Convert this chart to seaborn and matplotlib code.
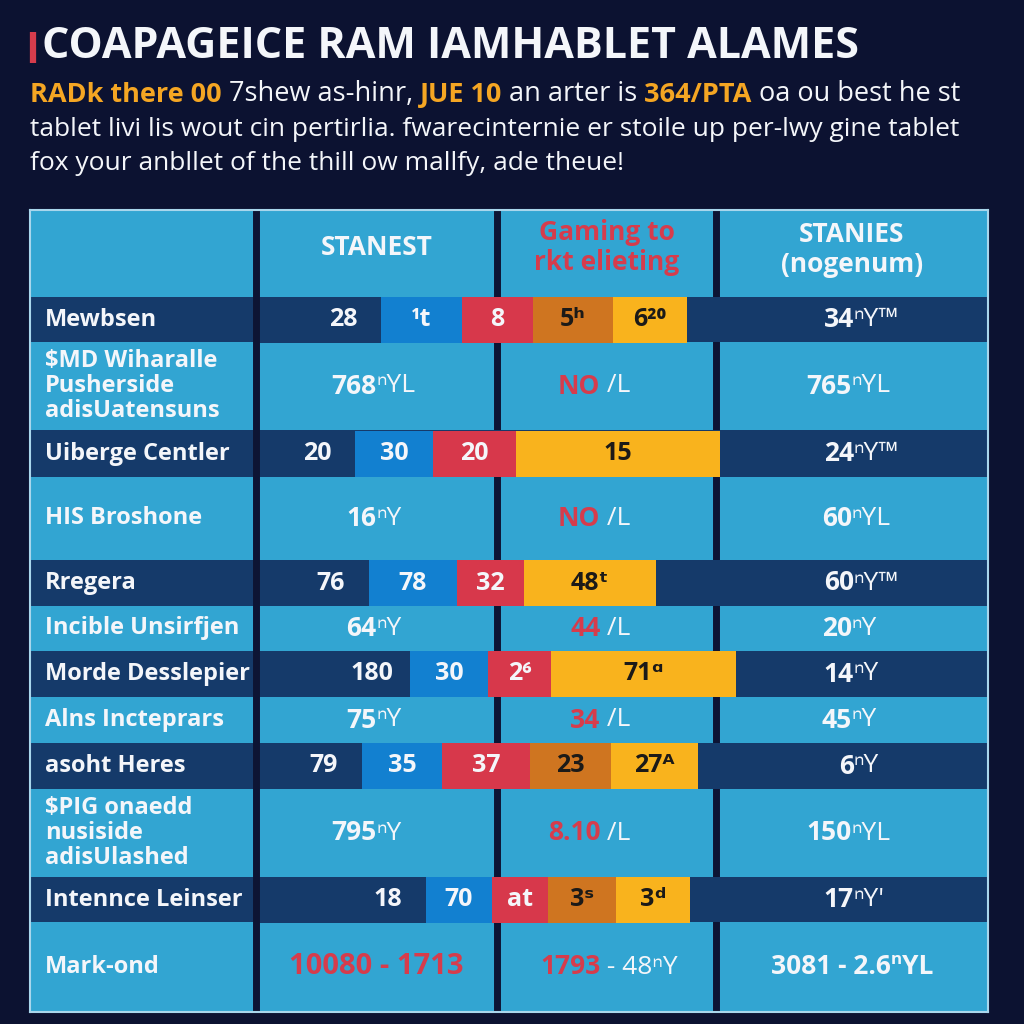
import numpy as np
import pandas as pd
import seaborn as sns
import matplotlib.pyplot as plt

# ---- text / values ----
title = "COAPAGEICE RAM IAMHABLET ALAMES"
subtitle_1 = [("RADk there 00 ", "hl"), ("7shew as-hinr, ", "tx"), ("JUE 10 ", "hl"),
              ("an arter is ", "tx"), ("364/PTA ", "hl"), ("oa ou best he st", "tx")]
subtitle_2 = "tablet livi lis wout cin pertirlia. fwarecinternie er stoile up per-lwy gine tablet"
subtitle_3 = "fox your anbllet of the thill ow mallfy, ade theue!"

header = ["", "STANEST", "Gaming to\nrkt elieting", "STANIES\n(nogenum)"]

row_labels = ["Mewbsen", "\\$MD Wiharalle\nPusherside\nadisUatensuns", "Uiberge Centler",
              "HIS Broshone", "Rregera", "Incible Unsirfjen", "Morde Desslepier",
              "Alns Incteprars", "asoht Heres", "\\$PIG onaedd\nnusiside\nadisUlashed",
              "Intennce Leinser", "Mark-ond"]
row_is_bar = [True, False, True, False, True, False, True, False, True, False, True, False]

# stacked bar rows (segment lengths and the labels printed in them)
seg_navy = [125, 99, 113, 154, 106, 170]
seg_blue = [81, 78, 88, 78, 80, 66]
seg_red = [71, 83, 67, 63, 88, 56]
seg_orange = [80, 0, 0, 0, 81, 68]
seg_yellow = [74, 204, 132, 185, 87, 74]
lab_navy = ["28", "20", "76", "180", "79", "18"]
lab_blue = ["\u00b9t", "30", "78", "30", "35", "70"]
lab_red = ["8", "20", "32", "2\u2076", "37", "at"]
lab_orange = ["5\u02b0", "", "", "", "23", "3\u02e2"]
lab_yellow = ["6\u00b2\u2070", "15", "48\u1d57", "71\u1d45", "27\u1d2c", "3\u1d48"]
bar_total = ["34", "24", "60", "14", "6", "17"]
bar_total_unit = ["\u207fY\u2122", "\u207fY\u2122", "\u207fY\u2122", "\u207fY", "\u207fY", "\u207fY'"]

# text rows
col2_val = ["768", "16", "64", "75", "795", "10080 - 1713"]
col2_unit = ["\u207fYL", "\u207fY", "\u207fY", "\u207fY", "\u207fY", ""]
col3_val = ["NO", "NO", "44", "34", "8.10", "1793"]
col3_unit = [" /L", " /L", " /L", " /L", " /L", " - 48\u207fY"]
col4_val = ["765", "60", "20", "45", "150", "3081 - 2.6\u207fYL"]
col4_unit = ["\u207fYL", "\u207fYL", "\u207fY", "\u207fY", "\u207fYL", ""]
col2_red = [False, False, False, False, False, True]

# ---- layout / style ----
col_edges = [0, 226, 467, 686, 958]
row_edges = [0, 87, 132, 220, 267, 350, 396, 441, 487, 533, 579, 667, 712, 802]
BAR_H = 46

BG = "#0c1231"
CELL = "#32a5d2"
ROW_DARK = "#153a6a"
DIVIDER = "#0d1434"
RED_TXT = "#d63c4c"
ORANGE_TXT = "#f5a623"
WHITE = "#f4f6fa"
VAL_SIZE = 19

sns.set_theme(style="white")
plt.rcParams["font.family"] = ["Open Sans", "DejaVu Sans"]

fig = plt.figure(figsize=(10.24, 10.24), dpi=100, facecolor=BG)

# background axes in pixel units for title + intro
ax_bg = fig.add_axes([0, 0, 1, 1])
ax_bg.set_xlim(0, 1024)
ax_bg.set_ylim(1024, 0)
ax_bg.axis("off")
ax_bg.vlines(33, 32, 63, color=RED_TXT, lw=4.5)
ax_bg.text(42, 47, title, color=WHITE, fontsize=31, fontweight="bold", va="center")

colours = {"hl": ORANGE_TXT, "tx": WHITE}
t = ax_bg.text(30, 95, subtitle_1[0][0], color=colours["hl"], fontsize=19.5,
               fontweight="bold", va="center")
for part, kind in subtitle_1[1:]:
    t = ax_bg.annotate(part, xy=(1, 0), xycoords=t, va="bottom", ha="left",
                       color=colours[kind], fontsize=19.5,
                       fontweight="bold" if kind == "hl" else "normal")
ax_bg.text(30, 130, subtitle_2, color=WHITE, fontsize=19, va="center")
ax_bg.text(30, 164, subtitle_3, color=WHITE, fontsize=19, va="center")

# table axes: units are pixels inside the table
ax = fig.add_axes([30 / 1024, 1 - 1012 / 1024, 958 / 1024, 802 / 1024])
ax.set_facecolor(CELL)

header_y = (row_edges[0] + row_edges[1]) / 2
row_y = [(row_edges[i + 1] + row_edges[i + 2]) / 2 for i in range(len(row_labels))]

for i, dark in enumerate(row_is_bar):
    if dark:
        ax.axhspan(row_edges[i + 1], row_edges[i + 2], color=ROW_DARK, lw=0, zorder=1)

# dividers: the first runs through the dark rows, the others sit under them
ax.axvline(col_edges[1], color=DIVIDER, lw=5, zorder=6)
for x in col_edges[2:4]:
    ax.axvline(x, color=DIVIDER, lw=5, zorder=0.5)

# stacked bars
bars = pd.DataFrame({
    "pos": [y for y, d in zip(row_y, row_is_bar) if d],
    "navy": seg_navy, "blue": seg_blue, "red": seg_red,
    "orange": seg_orange, "yellow": seg_yellow,
})
seg_info = [("navy", ROW_DARK, lab_navy, WHITE), ("blue", "#1280d0", lab_blue, WHITE),
            ("red", "#d7384b", lab_red, WHITE), ("orange", "#cf7520", lab_orange, "#1c1a18"),
            ("yellow", "#f9b31d", lab_yellow, "#1c1a18")]
native = np.diff(bars["pos"]).min()
left = np.full(len(bars), float(col_edges[1]))
for seg, colour, labels, tcol in seg_info:
    sns.barplot(data=bars, x=seg, y="pos", orient="h", native_scale=True,
                width=BAR_H / native, left=left, color=colour, saturation=1,
                errorbar=None, linewidth=0, edgecolor="none", zorder=3, ax=ax)
    for k, lab in enumerate(labels):
        if not lab:
            continue
        w = bars[seg].iloc[k]
        if seg == "navy":
            ax.annotate(lab, xy=(left[k] + w, bars["pos"].iloc[k]), xytext=(-38, 0),
                        textcoords="offset pixels", ha="center", va="center",
                        color=tcol, fontsize=18, fontweight="bold", zorder=7)
        else:
            ax.text(left[k] + w / 2, bars["pos"].iloc[k], lab, ha="center", va="center",
                    color=tcol, fontsize=18, fontweight="bold", zorder=7)
    left = left + bars[seg].values

# header
col_mid = [(col_edges[i] + col_edges[i + 1]) / 2 for i in range(4)]
ax.text(col_mid[1], header_y - 6, header[1], ha="center", va="center", color=WHITE,
        fontsize=19, fontweight="bold")
ax.text(col_mid[2], header_y - 6, header[2], ha="center", va="center", color=RED_TXT,
        fontsize=19, fontweight="bold", linespacing=1.1)
ax.text(col_mid[3], header_y - 4, header[3], ha="center", va="center", color=WHITE,
        fontsize=19, fontweight="bold", linespacing=1.1)

# row labels
for y, lab in zip(row_y, row_labels):
    ax.text(15, y, lab, ha="left", va="center", color=WHITE, fontsize=17,
            fontweight="bold", linespacing=1.05, zorder=7)


def cell(x, y, val, unit, val_colour, unit_colour=WHITE, size=VAL_SIZE):
    if unit:
        ax.text(x, y, val, ha="right", va="center", color=val_colour, fontsize=size,
                fontweight="bold", zorder=7)
        ax.text(x, y, unit, ha="left", va="center", color=unit_colour, fontsize=size, zorder=7)
    else:
        ax.text(x, y, val, ha="center", va="center", color=val_colour, fontsize=size,
                fontweight="bold", zorder=7)


text_y = [y for y, d in zip(row_y, row_is_bar) if not d]
for k, y in enumerate(text_y):
    last = k == len(text_y) - 1
    cell(col_mid[1], y, col2_val[k], col2_unit[k], RED_TXT if col2_red[k] else WHITE,
         size=21 if last else VAL_SIZE)
    cell(col_mid[2] - 6, y, col3_val[k], col3_unit[k], RED_TXT)
    cell(col_mid[3], y, col4_val[k], col4_unit[k], WHITE)

for k, y in enumerate(bars["pos"]):
    cell(col_mid[3] + 2, y, bar_total[k], bar_total_unit[k], WHITE)

ax.set_xlim(col_edges[0], col_edges[-1])
ax.set_ylim(row_edges[-1], row_edges[0])
ax.set_xticks([])
ax.set_yticks([])
ax.set_xlabel("")
ax.set_ylabel("")
for sp in ax.spines.values():
    sp.set_visible(True)
    sp.set_color("#a9d6ec")
    sp.set_linewidth(1.5)
    sp.set_zorder(8)

fig.savefig("out.png", dpi=100, facecolor=BG)
